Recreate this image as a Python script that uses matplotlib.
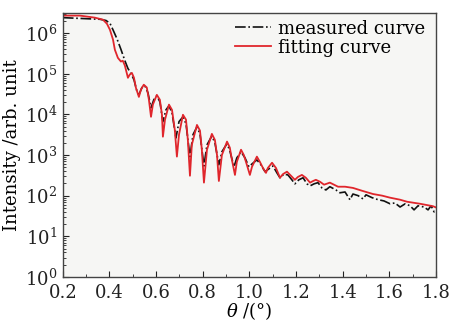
import matplotlib
matplotlib.use('Agg')
import matplotlib.pyplot as plt
from matplotlib.ticker import LogLocator, MultipleLocator, NullFormatter

plt.rcParams['font.family'] = ['DejaVu Serif']
plt.rcParams['mathtext.fontset'] = 'dejavuserif'

# fitting curve (red), theta in degrees and log10 intensity
fit_theta = [0.200, 0.273, 0.337, 0.372, 0.389, 0.402, 0.415, 0.423, 0.436, 0.449,
             0.457, 0.466, 0.479, 0.487, 0.496, 0.505, 0.513, 0.526, 0.535, 0.547,
             0.560, 0.569, 0.578, 0.586, 0.603, 0.616, 0.625, 0.629, 0.638, 0.655,
             0.668, 0.680, 0.689, 0.698, 0.715, 0.728, 0.736, 0.745, 0.753, 0.775,
             0.788, 0.796, 0.805, 0.818, 0.839, 0.852, 0.861, 0.869, 0.882, 0.904,
             0.916, 0.925, 0.938, 0.946, 0.964, 0.976, 0.989, 1.002, 1.011, 1.032,
             1.045, 1.058, 1.071, 1.079, 1.097, 1.114, 1.131, 1.144, 1.161, 1.178,
             1.195, 1.208, 1.225, 1.242, 1.260, 1.273, 1.285, 1.303, 1.320, 1.345,
             1.380, 1.410, 1.444, 1.483, 1.530, 1.569, 1.603, 1.646, 1.676, 1.732,
             1.787, 1.800]
fit_logI = [6.43, 6.43, 6.38, 6.33, 6.23, 6.08, 5.84, 5.59, 5.39, 5.30,
            5.32, 5.20, 4.90, 4.98, 5.02, 4.90, 4.66, 4.43, 4.61, 4.73,
            4.66, 4.36, 3.94, 4.24, 4.48, 4.36, 3.99, 3.45, 3.87, 4.24,
            4.11, 3.62, 2.96, 3.50, 3.99, 3.87, 3.37, 2.49, 3.25, 3.74,
            3.60, 3.13, 2.32, 3.13, 3.52, 3.37, 3.00, 2.36, 3.00, 3.33,
            3.18, 2.88, 2.51, 2.83, 3.13, 3.00, 2.76, 2.51, 2.71, 2.96,
            2.83, 2.68, 2.56, 2.68, 2.81, 2.68, 2.44, 2.53, 2.59, 2.49,
            2.39, 2.46, 2.51, 2.44, 2.32, 2.36, 2.39, 2.34, 2.27, 2.32,
            2.22, 2.22, 2.19, 2.12, 2.04, 2.00, 1.95, 1.90, 1.85, 1.80,
            1.74, 1.71]

# measured curve (black dash-dot)
meas_theta = [0.200, 0.316, 0.359, 0.385, 0.402, 0.415, 0.432, 0.449, 0.466, 0.479,
              0.492, 0.505, 0.518, 0.526, 0.539, 0.552, 0.565, 0.578, 0.590, 0.603,
              0.616, 0.629, 0.642, 0.655, 0.668, 0.685, 0.698, 0.715, 0.728, 0.745,
              0.758, 0.775, 0.788, 0.805, 0.818, 0.839, 0.852, 0.869, 0.882, 0.904,
              0.916, 0.934, 0.946, 0.964, 0.981, 0.998, 1.011, 1.032, 1.049, 1.067,
              1.079, 1.101, 1.118, 1.131, 1.148, 1.165, 1.182, 1.195, 1.212, 1.230,
              1.247, 1.260, 1.277, 1.294, 1.311, 1.328, 1.345, 1.371, 1.388, 1.410,
              1.431, 1.444, 1.466, 1.487, 1.500, 1.526, 1.552, 1.577, 1.603, 1.624,
              1.646, 1.668, 1.689, 1.706, 1.723, 1.749, 1.766, 1.779, 1.792, 1.800]
meas_logI = [6.38, 6.35, 6.34, 6.31, 6.24, 6.08, 5.86, 5.60, 5.32, 5.13,
             5.01, 4.85, 4.56, 4.48, 4.66, 4.70, 4.53, 4.16, 4.36, 4.46,
             4.31, 3.82, 4.11, 4.21, 4.04, 3.42, 3.82, 3.94, 3.77, 2.96,
             3.50, 3.69, 3.52, 2.73, 3.25, 3.47, 3.30, 2.76, 3.08, 3.28,
             3.10, 2.71, 2.93, 3.08, 2.93, 2.71, 2.78, 2.88, 2.76, 2.59,
             2.64, 2.73, 2.56, 2.44, 2.53, 2.51, 2.39, 2.29, 2.39, 2.44,
             2.29, 2.24, 2.29, 2.32, 2.19, 2.14, 2.22, 2.14, 2.07, 2.09,
             1.90, 2.04, 2.00, 1.92, 2.02, 1.95, 1.90, 1.87, 1.80, 1.82,
             1.72, 1.80, 1.75, 1.65, 1.75, 1.72, 1.65, 1.75, 1.60, 1.65]

fit_I = [10 ** v for v in fit_logI]
meas_I = [10 ** v for v in meas_logI]

fig = plt.figure(figsize=(4.49, 3.22), dpi=100)
ax = fig.add_axes([0.140, 0.140, 0.831, 0.821])
ax.set_facecolor('#f6f6f4')

ax.plot(meas_theta, meas_I, color='#111111', linestyle='-.', linewidth=1.2,
        label='measured curve')
ax.plot(fit_theta, fit_I, color='#e0262c', linewidth=1.3, label='fitting curve')

ax.set_yscale('log')
ax.set_xlim(0.2, 1.8)
ax.set_ylim(1, 3.2e6)
ax.xaxis.set_major_locator(MultipleLocator(0.2))
ax.xaxis.set_minor_locator(MultipleLocator(0.1))
ax.yaxis.set_major_locator(LogLocator(base=10, numticks=10))
ax.yaxis.set_minor_locator(LogLocator(base=10, subs=range(2, 10), numticks=10))
ax.yaxis.set_minor_formatter(NullFormatter())
ax.tick_params(which='both', direction='in', top=False, right=False,
               labelsize=13, colors='#222222')
ax.tick_params(which='major', length=4)
ax.tick_params(which='minor', length=2)
ax.tick_params(axis='x', which='major', pad=5)
ax.tick_params(axis='y', which='major', pad=4)
for s in ax.spines.values():
    s.set_color('#444444')
    s.set_linewidth(1.0)

ax.set_xlabel(r'$\theta$ /(°)', fontsize=13, labelpad=-1)
ax.set_ylabel('Intensity /arb. unit', fontsize=13, labelpad=3)

ax.legend(loc='upper right', frameon=False, fontsize=13, handlelength=2.0,
          handletextpad=0.4, labelspacing=0.05, borderaxespad=0.0,
          bbox_to_anchor=(0.99, 1.0))

fig.savefig('out.png', dpi=100)
